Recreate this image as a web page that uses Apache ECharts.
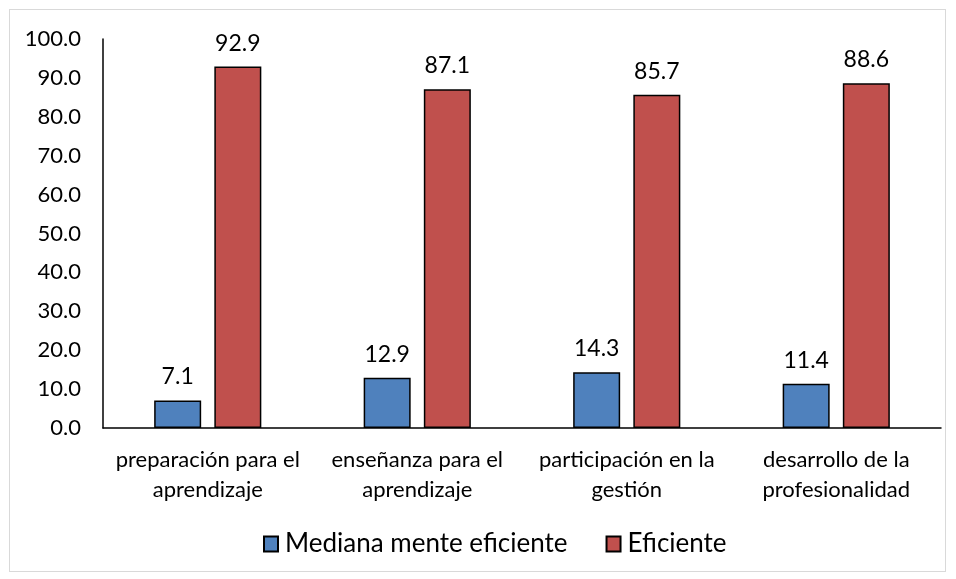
<!DOCTYPE html>
<html lang="es">
<head>
    <meta charset="UTF-8">
    <title>Eficiencia por dominio</title>
    <script src="https://cdn.jsdelivr.net/npm/echarts@6.0.0/dist/echarts.min.js"></script>
    <style>
        html, body { margin: 0; padding: 0; background: #fff; }
        #chart { width: 956px; height: 579px; }
        .frame { position: absolute; left: 9px; top: 9px; width: 937px; height: 563px; border: 1px solid #d9d9d9; box-sizing: border-box; pointer-events: none; }
    </style>
</head>
<body>
<div id="chart"></div>
<div class="frame"></div>
<script>
    const categories = [
        'preparación para el\naprendizaje',
        'enseñanza para el\naprendizaje',
        'participación en la\ngestión',
        'desarrollo de la\nprofesionalidad'
    ];
    const medianamente = [7.1, 12.9, 14.3, 11.4];
    const eficiente = [92.9, 87.1, 85.7, 88.6];
    const seriesNames = ['Mediana mente eficiente', 'Eficiente'];

    const font = 'Lato, "Open Sans", sans-serif';
    const chart = echarts.init(document.getElementById('chart'));

    const label = {
        show: true, position: 'top', distance: 12,
        color: '#000', fontSize: 23, fontFamily: font,
        formatter: p => p.value.toFixed(1)
    };

    chart.setOption({
        animation: false,
        grid: {left: 103, right: 15, top: 39, bottom: 151},
        legend: {
            bottom: 17, left: 258,
            itemWidth: 14, itemHeight: 15, itemGap: 38,
            icon: 'rect',
            textStyle: {fontSize: 26, fontFamily: font, color: '#000', padding: [0, 0, 0, 2]},
            data: seriesNames
        },
        xAxis: {
            type: 'category', data: categories,
            axisLine: {lineStyle: {color: '#000', width: 1.5}},
            axisTick: {show: false},
            axisLabel: {interval: 0, color: '#000', fontSize: 22, fontFamily: font, margin: 17, lineHeight: 30}
        },
        yAxis: {
            type: 'value', min: 0, max: 100, interval: 10,
            axisLine: {show: true, lineStyle: {color: '#000', width: 1.5}},
            axisTick: {show: false},
            splitLine: {show: false},
            axisLabel: {color: '#000', fontSize: 22, fontFamily: font, margin: 22, formatter: v => v.toFixed(1)}
        },
        series: [
            {
                name: seriesNames[0], type: 'bar', data: medianamente,
                barWidth: 47, barGap: '28%',
                itemStyle: {color: '#4F81BD', borderColor: '#000', borderWidth: 1.5},
                label: label
            },
            {
                name: seriesNames[1], type: 'bar', data: eficiente,
                barWidth: 47,
                itemStyle: {color: '#C0504D', borderColor: '#000', borderWidth: 1.5},
                label: label
            }
        ]
    });
</script>
</body>
</html>
